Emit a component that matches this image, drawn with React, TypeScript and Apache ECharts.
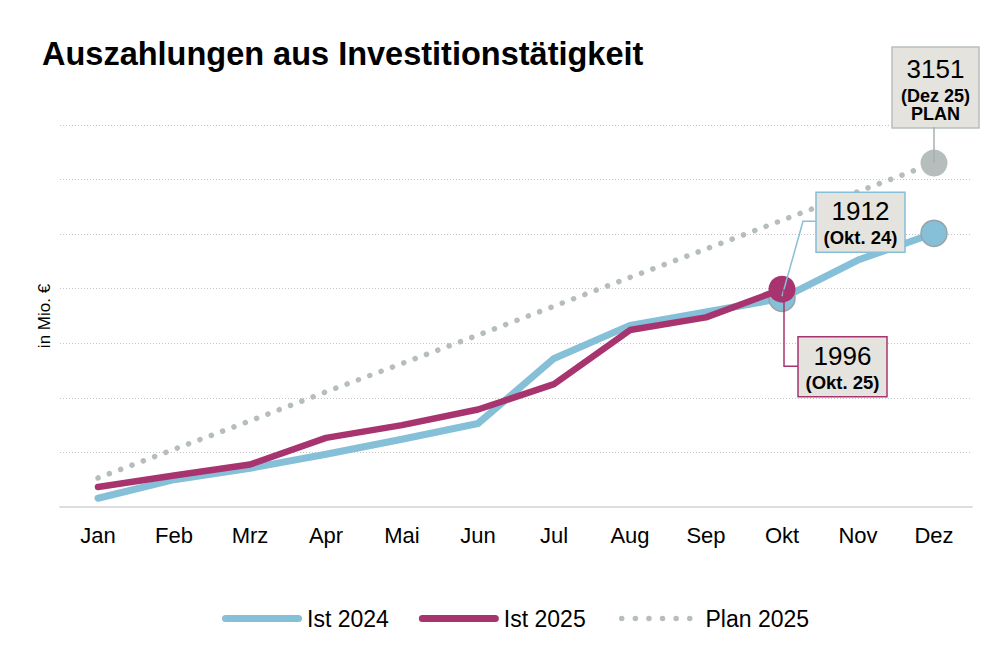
import React, { useEffect, useRef } from "react";
import * as echarts from "echarts";

const months = ["Jan", "Feb", "Mrz", "Apr", "Mai", "Jun", "Jul", "Aug", "Sep", "Okt", "Nov", "Dez"];
const ist2024 = [80, 250, 355, 483, 621, 765, 1361, 1664, 1786, 1912, 2263, 2508];
const ist2025 = [183, 288, 389, 633, 750, 893, 1126, 1621, 1737, 1996];
const plan2025 = [266, 529, 789, 1055, 1315, 1575, 1840, 2104, 2364, 2627, 2890, 3151];
const yMin = 0;
const yMax = 3500;
const yStep = 500;

const seriesNames = ["Ist 2024", "Ist 2025", "Plan 2025"];
const titleText = "Auszahlungen aus Investitionstätigkeit";
const yAxisName = "in Mio. €";

const BLUE = "#85BFD8";
const MAGENTA = "#A8346F";
const GRAY = "#B6BEBD";
const BOXFILL = "#E4E3DE";
const FONT = "'Liberation Sans', Arial, sans-serif";

const capsuleIcon = "path://M3.5,0 L76.5,0 A3.5,3.5 0 0 1 76.5,7 L3.5,7 A3.5,3.5 0 0 1 3.5,0 Z";
function dotsIcon(): string {
  const r = 2.75;
  const n = 6;
  const step = 13.6;
  let d = "path://";
  for (let i = 0; i < n; i++) {
    const cx = r + i * step;
    d += `M${cx - r},${r} A${r},${r} 0 1 0 ${cx + r},${r} A${r},${r} 0 1 0 ${cx - r},${r} Z `;
  }
  return d;
}

function withMarkers(values: number[], idx: number[], size: number) {
  return values.map((v, i) => (idx.includes(i) ? { value: v, symbol: "circle", symbolSize: size } : { value: v }));
}

export default function App() {
  const ref = useRef<HTMLDivElement>(null);
  useEffect(() => {
    if (!ref.current) return;
    const chart = echarts.init(ref.current, undefined, { renderer: "svg" });
    const legendText = { fontFamily: FONT, fontSize: 23, color: "#000" };
    const option: any = {
      animation: false,
      title: {
        text: titleText,
        left: 42,
        top: 37,
        padding: 0,
        textStyle: { fontFamily: FONT, fontSize: 32.5, fontWeight: "bold", color: "#000" },
      },
      grid: { left: 60, right: 36, top: 125, bottom: 165 },
      legend: [
        {
          bottom: 42,
          left: 222,
          padding: 0,
          itemWidth: 80,
          itemHeight: 7,
          itemGap: 30,
          itemStyle: { borderWidth: 0 },
          textStyle: legendText,
          data: [
            { name: seriesNames[0], icon: capsuleIcon },
            { name: seriesNames[1], icon: capsuleIcon },
          ],
        },
        {
          bottom: 42,
          left: 619,
          padding: 0,
          itemWidth: 73.5,
          itemHeight: 5.5,
          itemStyle: { borderWidth: 0 },
          textStyle: { ...legendText, padding: [0, 0, 0, 8] },
          data: [{ name: seriesNames[2], icon: dotsIcon() }],
        },
      ],
      xAxis: {
        type: "category",
        data: months,
        boundaryGap: true,
        axisLine: { lineStyle: { color: "#DDDDDD", width: 2 } },
        axisTick: { show: false },
        axisLabel: { fontFamily: FONT, fontSize: 22, color: "#000", margin: 17 },
      },
      yAxis: {
        type: "value",
        min: yMin,
        max: yMax,
        interval: yStep,
        name: yAxisName,
        nameLocation: "middle",
        nameGap: 7,
        nameTextStyle: { fontFamily: FONT, fontSize: 17, color: "#000" },
        axisLabel: { show: false },
        axisLine: { show: false },
        axisTick: { show: false },
        splitLine: { lineStyle: { color: "#C4C4C4", width: 1, type: [1, 2] } },
      },
      series: [
        {
          name: seriesNames[0],
          type: "line",
          data: withMarkers(ist2024, [9, 11], 26),
          symbol: "none",
          color: BLUE,
          lineStyle: { color: BLUE, width: 7, cap: "round", join: "round" },
          itemStyle: { color: BLUE, borderColor: "#95A4A6", borderWidth: 1.5 },
          z: 2,
        },
        {
          name: seriesNames[1],
          type: "line",
          data: withMarkers(ist2025, [9], 27),
          symbol: "none",
          color: MAGENTA,
          lineStyle: { color: MAGENTA, width: 6.5, cap: "round", join: "round" },
          itemStyle: { color: MAGENTA, borderWidth: 0 },
          z: 4,
        },
        {
          name: seriesNames[2],
          type: "line",
          data: withMarkers(plan2025, [11], 27),
          symbol: "none",
          color: GRAY,
          lineStyle: { color: GRAY, width: 5.5, type: [0.1, 12], cap: "round" },
          itemStyle: { color: GRAY, borderWidth: 0 },
          z: 3,
        },
      ],
    };
    chart.setOption(option);

    const px = (i: number, v: number) => chart.convertToPixel({ gridIndex: 0 }, [i, v]) as number[];
    const txt = (x: number, y: number, text: string, size: number, bold: boolean) => ({
      type: "text",
      x,
      y,
      z: 100,
      style: {
        text,
        fontFamily: FONT,
        fontSize: size,
        fontWeight: bold ? "bold" : "normal",
        fill: "#000",
        textAlign: "center",
        textVerticalAlign: "middle",
      },
    });
    const box = (x: number, y: number, w: number, h: number, stroke: string) => ({
      type: "rect",
      z: 99,
      shape: { x, y, width: w, height: h },
      style: { fill: BOXFILL, stroke, lineWidth: 1.5 },
    });
    const pl = (points: number[][], stroke: string) => ({
      type: "polyline",
      z: 101,
      shape: { points },
      style: { stroke, lineWidth: 1.5, fill: "none" },
    });

    const pPlan = px(11, plan2025[11]);
    const p24 = px(9, ist2024[9]);
    const p25 = px(9, ist2025[9]);

    const graphic: any[] = [
      pl([[pPlan[0], pPlan[1] - 36], [pPlan[0], pPlan[1]]], "#A9B0B0"),
      box(pPlan[0] - 42, pPlan[1] - 116, 87, 81, "#B8BFBF"),
      txt(pPlan[0] + 1.5, pPlan[1] - 94, String(plan2025[11]), 26, false),
      txt(pPlan[0] + 1.5, pPlan[1] - 67, "(Dez 25)", 18, true),
      txt(pPlan[0] + 1.5, pPlan[1] - 49, "PLAN", 18, true),
      pl([[p24[0] + 34, p24[1] - 77], [p24[0] + 21, p24[1] - 77], [p24[0], p24[1] - 2]], BLUE),
      box(p24[0] + 34, p24[1] - 106, 89, 60, BLUE),
      txt(p24[0] + 78.5, p24[1] - 87, String(ist2024[9]), 26, false),
      txt(p24[0] + 78.5, p24[1] - 61, "(Okt. 24)", 18.5, true),
      pl([[p25[0] + 2, p25[1]], [p25[0] + 2, p25[1] + 77], [p25[0] + 16, p25[1] + 77]], MAGENTA),
      box(p25[0] + 16, p25[1] + 47.5, 89, 60, MAGENTA),
      txt(p25[0] + 60.5, p25[1] + 67, String(ist2025[9]), 26, false),
      txt(p25[0] + 60.5, p25[1] + 93, "(Okt. 25)", 18.5, true),
    ];
    chart.setOption({ graphic });

    return () => chart.dispose();
  }, []);
  return <div ref={ref} style={{ position: "fixed", left: 0, top: 0, width: 1008, height: 672, background: "#fff" }} />;
}
